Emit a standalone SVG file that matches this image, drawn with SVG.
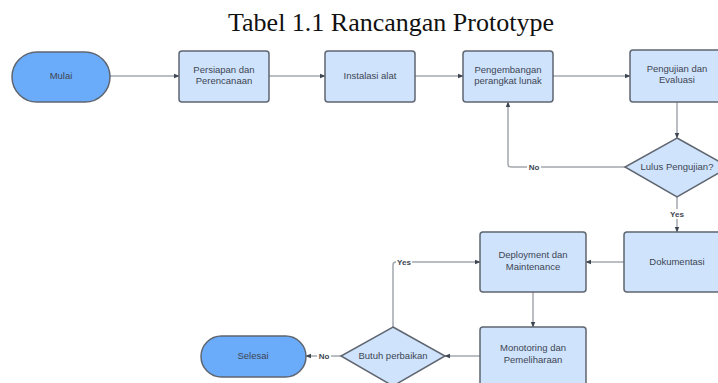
<svg xmlns="http://www.w3.org/2000/svg" width="718" height="383" viewBox="0 0 718 383">
<style>
.box{fill:#cfe3fd;stroke:#5f6670;stroke-width:1.5}
.term{fill:#6aabfa;stroke:#5f6670;stroke-width:1.5}
.t{font-family:"Liberation Sans",Arial,sans-serif;font-size:9.5px;fill:#3e4652;text-anchor:middle}
.c{fill:none;stroke:#a3a7ad;stroke-width:1.5;marker-end:url(#ah)}
.lbl{font-family:"Liberation Sans",Arial,sans-serif;font-size:8px;font-weight:bold;fill:#3e4652;text-anchor:middle}
.lb{fill:#ffffff}
</style>
<defs>
<marker id="ah" viewBox="0 0 10 10" refX="9" refY="5" markerWidth="6" markerHeight="6" markerUnits="userSpaceOnUse" orient="auto">
<path d="M0,1 L10,5 L0,9 z" fill="#3e4652"/>
</marker>
</defs>
<rect width="718" height="383" fill="#ffffff"/>
<text x="391" y="31" font-family="'Liberation Serif','Times New Roman',serif" font-size="26" fill="#111111" text-anchor="middle">Tabel 1.1 Rancangan Prototype</text>

<g id="connectors">
<path class="c" d="M110,76 H179"/>
<path class="c" d="M269,76 H325"/>
<path class="c" d="M415,76 H463"/>
<path class="c" d="M553,76 H630"/>
<path class="c" d="M677,102 V138"/>
<path class="c" d="M625,167 H511 Q508,167 508,164 V102"/>
<path class="c" d="M677,197 V232"/>
<path class="c" d="M624,262 H586"/>
<path class="c" d="M533,292 V327"/>
<path class="c" d="M480,356 H445"/>
<path class="c" d="M393,327 V265 Q393,262 396,262 H480"/>
<path class="c" d="M341,356 H306"/>
<rect class="lb" x="527" y="162" width="14" height="10"/>
<text class="lbl" x="534" y="170">No</text>
<rect class="lb" x="669" y="209" width="16" height="10"/>
<text class="lbl" x="677" y="217">Yes</text>
<rect class="lb" x="396" y="257" width="16" height="10"/>
<text class="lbl" x="404" y="265">Yes</text>
<rect class="lb" x="317" y="351" width="14" height="10"/>
<text class="lbl" x="324" y="359">No</text>
</g>

<g id="mulai">
<rect class="term" x="12" y="52" width="98" height="50" rx="25"/>
<text class="t" x="61" y="79">Mulai</text>
</g>
<g id="persiapan">
<rect class="box" x="179" y="51" width="90" height="51" rx="3"/>
<text class="t" x="224" y="73">Persiapan dan</text>
<text class="t" x="224" y="84">Perencanaan</text>
</g>
<g id="instalasi">
<rect class="box" x="325" y="51" width="90" height="51" rx="3"/>
<text class="t" x="370" y="79">Instalasi alat</text>
</g>
<g id="pengembangan">
<rect class="box" x="463" y="51" width="90" height="51" rx="3"/>
<text class="t" x="508" y="73">Pengembangan</text>
<text class="t" x="508" y="84">perangkat lunak</text>
</g>
<g id="pengujian">
<rect class="box" x="630" y="50" width="94" height="52" rx="3"/>
<text class="t" x="677" y="72">Pengujian dan</text>
<text class="t" x="677" y="83">Evaluasi</text>
</g>
<g id="lulus">
<path class="box" d="M677,138 L729,167 L677,197 L625,167 Z"/>
<text class="t" x="677" y="170">Lulus Pengujian?</text>
</g>
<g id="dokumentasi">
<rect class="box" x="624" y="232" width="106" height="60" rx="3"/>
<text class="t" x="677" y="265">Dokumentasi</text>
</g>
<g id="deployment">
<rect class="box" x="480" y="232" width="106" height="60" rx="3"/>
<text class="t" x="533" y="258">Deployment dan</text>
<text class="t" x="533" y="270">Maintenance</text>
</g>
<g id="monotoring">
<rect class="box" x="480" y="327" width="106" height="62" rx="3"/>
<text class="t" x="533" y="351">Monotoring dan</text>
<text class="t" x="533" y="363">Pemeliharaan</text>
</g>
<g id="butuh">
<path class="box" d="M393,327 L445,356 L393,386 L341,356 Z"/>
<text class="t" x="393" y="359">Butuh perbaikan</text>
</g>
<g id="selesai">
<rect class="term" x="201" y="336" width="105" height="41" rx="20.5"/>
<text class="t" x="253" y="359">Selesai</text>
</g>
</svg>
